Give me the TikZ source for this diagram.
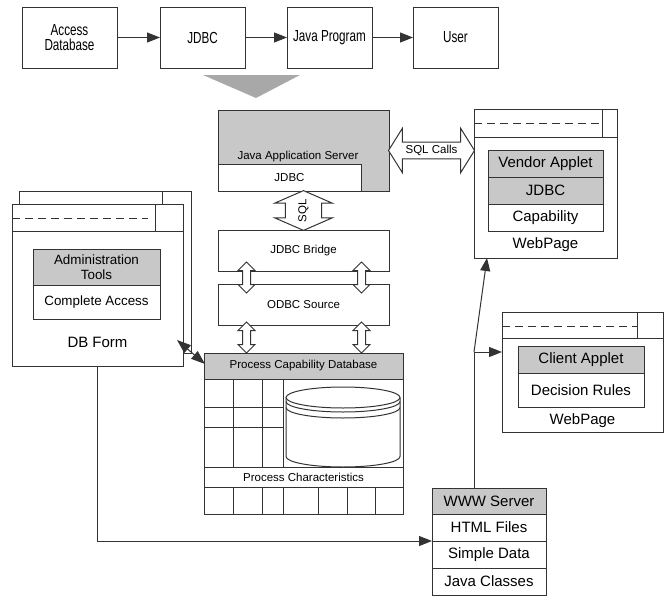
\documentclass[tikz,border=0pt]{standalone}
\usepackage{fontspec}
\setmainfont{Liberation Sans}
\newfontfamily\topfamily[FakeStretch=0.73]{Liberation Sans}
\usetikzlibrary{arrows.meta,shapes.arrows,positioning,calc}
\definecolor{lineclr}{HTML}{333333}
\definecolor{hdgray}{HTML}{C8C8C8}
\definecolor{trigray}{HTML}{A8A8A8}
\newcommand{\topfnt}{\topfamily\fontsize{16}{14.5}\selectfont}
\newcommand{\smallfnt}{\fontsize{11.5}{13.5}\selectfont}
\newcommand{\midfnt}{\fontsize{13.4}{15.5}\selectfont}
\newcommand{\bigfnt}{\fontsize{15}{17}\selectfont}

\begin{document}
\begin{tikzpicture}[x=1pt, y=-1pt,
    ln/.style={draw=lineclr, line width=1pt},
    box/.style={ln, fill=white, inner sep=0pt, outer sep=0pt, align=center, font=\smallfnt},
    gbox/.style={box, fill=hdgray},
    topbox/.style={box, minimum width=85, minimum height=61, font=\topfnt},
    frame/.style={ln, fill=white, inner sep=0pt, outer sep=0pt},
    ttl/.style={ln, dash pattern=on 8pt off 5pt},
    arr/.style={ln, -{Triangle[length=13pt, width=10pt]}},
    arrb/.style={ln, {Triangle[length=14pt, width=10pt]}-{Triangle[length=14pt, width=10pt]}},
    blk/.style={double arrow, ln, fill=white, inner xsep=0pt, outer sep=0pt, double arrow head indent=0pt, font=\smallfnt}
]
\useasboundingbox (0,0) rectangle (664,597);

% top row
\node[topbox, minimum width=95] (acc) at (69.5,37.5) {Access\\Database};
\node[topbox] (jdbc) at (202.5,37.5) {JDBC};
\node[topbox] (prog) at (329.5,37.5) {Java Program};
\node[topbox] (user) at (455.5,37.5) {User};
\draw[arr] (acc) -- (jdbc);
\draw[arr] (jdbc) -- (prog);
\draw[arr] (prog) -- (user);
\fill[trigray] (203,75) -- (300,75) -- (256,98) -- cycle;

% server stack
\node[gbox, minimum width=171, minimum height=81] (jas) at (303.5,150.5) {};
\node[font=\smallfnt] (jast) at (298,157) {Java Application Server};
\node[box, minimum width=143, minimum height=27] (jdbc2) at (289.5,177.5) {JDBC};
\node[box, minimum width=171, minimum height=41] (bridge) at (303.5,250.5) {JDBC Bridge};
\node[box, minimum width=171, minimum height=41] (odbc) at (303.5,304.5) {ODBC Source};
\node[blk, rotate=90, minimum height=39, inner ysep=12.5pt, double arrow head extend=10.5pt,
      double arrow tip angle=133] (sqlarr) at ($(jdbc2.south -| bridge.north)!0.5!(bridge.north)$) {SQL};
\node[blk, minimum height=86, inner ysep=2.5pt, double arrow head extend=14pt,
      double arrow tip angle=116] (calls) at ($(jas.east)!0.5!(jas.east -| 474,0)$) {SQL Calls};
\node[blk, rotate=90, minimum height=31, inner ysep=3.5pt, double arrow head extend=4.5pt,
      double arrow tip angle=90] (la1) at (246.5,277.5) {};
\node[blk, rotate=90, minimum height=31, inner ysep=3.5pt, double arrow head extend=4.5pt,
      double arrow tip angle=90] (ra1) at (361.5,277.5) {};

% process capability database
\node[gbox, minimum width=199, minimum height=26] (pcd) at (303.5,366) {Process Capability Database};
\draw[ln] (204,379) rectangle (403,467);
\draw[ln] (233,379) -- (233,467) (262,379) -- (262,467) (283,379) -- (283,467);
\draw[ln] (204,407) -- (283,407) (204,427) -- (283,427);
\draw[ln, fill=white] (286,397.5) -- (286,456.5) arc[start angle=180, end angle=360, x radius=57pt, y radius=10.5pt] -- (400,397.5);
\draw[ln, fill=white] (343,397.5) ellipse [x radius=57pt, y radius=10.5pt];
\draw[ln] (286,401.5) arc[start angle=180, end angle=360, x radius=57pt, y radius=10.5pt];
\draw[ln] (286,407.5) arc[start angle=180, end angle=360, x radius=57pt, y radius=10.5pt];
\node[box, minimum width=199, minimum height=20] (pchr) at (303.5,477) {Process Characteristics};
\draw[ln] (204,487) rectangle (403,514);
\foreach \cx in {233,262,283,318,347,375}
  \draw[ln] (\cx,487) -- (\cx,514);
\node[blk, rotate=90, minimum height=31, inner ysep=3.5pt, double arrow head extend=4.5pt,
      double arrow tip angle=90] (la2) at (246.5,337.5) {};
\node[blk, rotate=90, minimum height=31, inner ysep=3.5pt, double arrow head extend=4.5pt,
      double arrow tip angle=90] (ra2) at (361.5,337.5) {};

% DB form windows
\node[frame, minimum width=172, minimum height=162] (dbb) at (105,272) {};
\draw[ln] (162,191) -- (162,204);
\node[frame, minimum width=171, minimum height=162] (dbf) at (97.5,285) {};
\draw[ln] (12,231) -- (183,231);
\draw[ln] (155,204) -- (155,231);
\draw[ttl] (12,218) -- (148,218);
\node[gbox, minimum width=127, minimum height=36, font=\midfnt] (adm) at (96.5,267) {Administration\\Tools};
\node[box, minimum width=127, minimum height=34, font=\midfnt, below=0pt of adm] (cacc) {Complete Access};
\node[font=\bigfnt] (dbft) at (97.5,342) {DB Form};

% web page 1
\node[frame, minimum width=143, minimum height=149] (wp1) at (545.5,183.5) {};
\draw[ln] (474,137) -- (617,137);
\draw[ln] (602,109) -- (602,137);
\draw[ttl] (474,123) -- (602,123);
\node[gbox, minimum width=115, minimum height=27, font=\bigfnt] (vapp) at (545.5,163.5) {Vendor Applet};
\node[gbox, minimum width=115, minimum height=27, font=\bigfnt, below=0pt of vapp] (jdbc3) {JDBC};
\node[box, minimum width=115, minimum height=27, font=\bigfnt, below=0pt of jdbc3] (capa) {Capability};
\node[font=\bigfnt] (wp1t) at (545.5,245) {WebPage};

% web page 2
\node[frame, minimum width=161, minimum height=120] (wp2) at (582.5,372) {};
\draw[ln] (502,338) -- (663,338);
\draw[ln] (637,312) -- (637,338);
\draw[ttl] (502,326) -- (637,326);
\node[gbox, minimum width=126, minimum height=27, font=\bigfnt] (capp) at (581,359.5) {Client Applet};
\node[box, minimum width=126, minimum height=34, font=\bigfnt, below=0pt of capp] (drul) {Decision Rules};
\node[font=\bigfnt] (wp2t) at (582.5,421) {WebPage};

% www server
\node[gbox, minimum width=114, minimum height=26, font=\bigfnt] (www) at (489,501) {WWW Server};
\node[box, minimum width=114, minimum height=27, font=\bigfnt, below=0pt of www] (html) {HTML Files};
\node[box, minimum width=114, minimum height=27, font=\bigfnt, below=0pt of html] (sdat) {Simple Data};
\node[box, minimum width=114, minimum height=27, font=\bigfnt, below=0pt of sdat] (jcls) {Java Classes};

% connectors
\draw[arrb] ($(dbf.south east)+(-6,-26)$) -- ($(pcd.north west)+(1,11)$);
\draw[arr] (dbf.south) |- (html.south west);
\coordinate (jn) at (474,352);
\coordinate (wpin) at ($(wp1.south west)+(13,0)$);
\draw[ln] (www.north -| jn) -- (jn);
\draw[arr] (jn) -- (jn -| wp2.west);
\draw[arr] (jn) -- (wpin);
\end{tikzpicture}
\end{document}
